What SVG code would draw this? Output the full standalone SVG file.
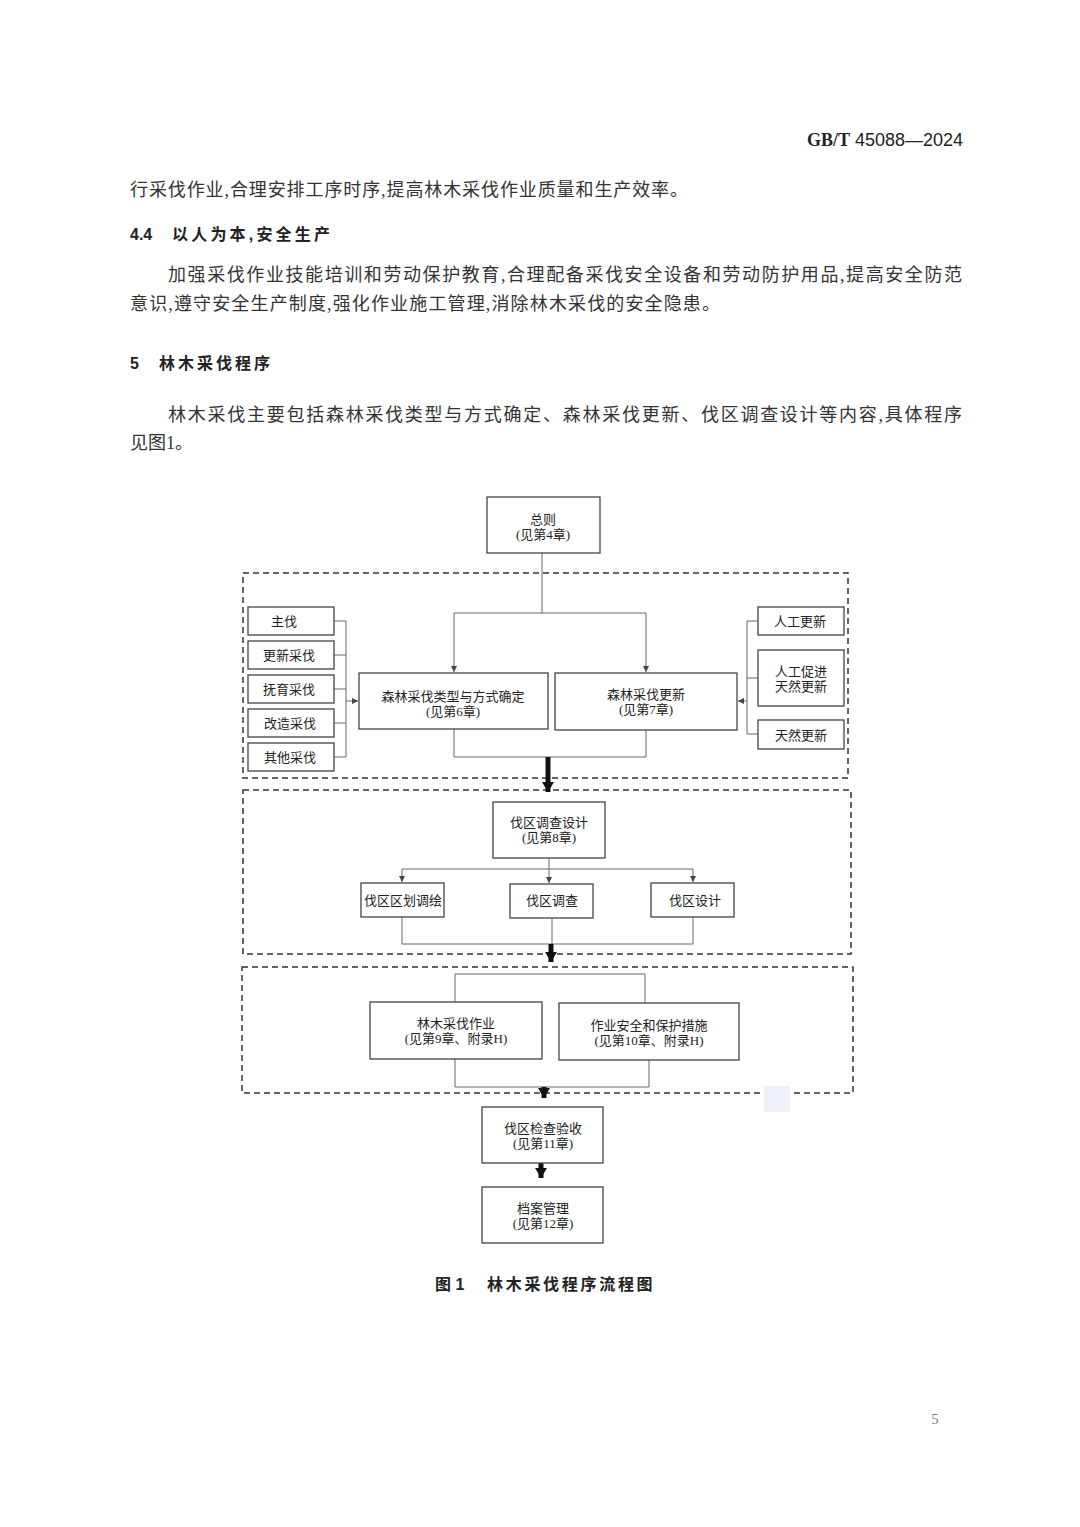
<svg xmlns="http://www.w3.org/2000/svg" width="1080" height="1527" viewBox="0 0 1080 1527">
<style>
.body{font-family:"Liberation Serif","Noto Sans CJK SC",serif;font-size:18px;fill:#333}
.head{font-family:"Liberation Sans","Noto Sans CJK SC",sans-serif;font-size:16px;font-weight:bold;fill:#222}
.box{fill:#fff;stroke:#444;stroke-width:1.3}
.t{font-family:"Liberation Serif","Noto Sans CJK SC",serif;font-size:13px;fill:#222;text-anchor:middle}
.ln{fill:none;stroke:#666;stroke-width:1}
.dash{fill:none;stroke:#333;stroke-width:1.5;stroke-dasharray:6,4}
.thick{fill:none;stroke:#111;stroke-width:5}
</style>
<defs>
<marker id="a" markerUnits="userSpaceOnUse" markerWidth="8" markerHeight="8" refX="6" refY="3" orient="auto"><path d="M0,0 L6,3 L0,6 Z" fill="#444"/></marker>
<marker id="ta" markerUnits="userSpaceOnUse" markerWidth="14" markerHeight="12" refX="10" refY="6" orient="auto"><path d="M0,0 L10,6 L0,12 Z" fill="#111"/></marker>
</defs>
<rect width="1080" height="1527" fill="#fff"/>
<text x="963" y="146" text-anchor="end" font-family="Liberation Sans Narrow,Liberation Sans,sans-serif" font-size="18" fill="#222"><tspan font-family="Liberation Serif,serif" font-weight="bold">GB/T</tspan> 45088—2024</text>
<text class="body" x="130" y="196" textLength="558" lengthAdjust="spacing">行采伐作业,合理安排工序时序,提高林木采伐作业质量和生产效率。</text>
<text class="head" x="130" y="240" font-size="17">4.4</text>
<text class="head" x="172" y="240" font-size="17" textLength="158" lengthAdjust="spacing">以人为本,安全生产</text>
<text class="body" x="168" y="281" textLength="794" lengthAdjust="spacing">加强采伐作业技能培训和劳动保护教育,合理配备采伐安全设备和劳动防护用品,提高安全防范</text>
<text class="body" x="130" y="310" textLength="590" lengthAdjust="spacing">意识,遵守安全生产制度,强化作业施工管理,消除林木采伐的安全隐患。</text>
<text class="head" x="130" y="369" font-size="17">5</text>
<text class="head" x="159" y="369" font-size="17" textLength="111" lengthAdjust="spacing">林木采伐程序</text>
<text class="body" x="168" y="421" textLength="794" lengthAdjust="spacing">林木采伐主要包括森林采伐类型与方式确定、森林采伐更新、伐区调查设计等内容,具体程序</text>
<text class="body" x="130" y="449">见图1。</text>

<g id="frames">
<rect class="dash" x="243" y="573" width="605" height="205"/>
<rect class="dash" x="243" y="790" width="608" height="164"/>
<rect class="dash" x="242" y="967" width="611" height="126"/>
</g>
<rect x="764" y="1086" width="26" height="26" fill="#eef2f8"/>

<g id="connectors">
<line class="ln" x1="542" y1="553" x2="542" y2="613" stroke="#222" stroke-width="1.6"/>
<line class="ln" x1="454" y1="613" x2="646" y2="613"/>
<line class="ln" x1="454" y1="613" x2="454" y2="672" marker-end="url(#a)"/>
<line class="ln" x1="646" y1="613" x2="646" y2="672" marker-end="url(#a)"/>
<polyline class="ln" points="334,621 346,621 346,757 334,757"/>
<line class="ln" x1="334" y1="655" x2="346" y2="655"/>
<line class="ln" x1="334" y1="689" x2="346" y2="689"/>
<line class="ln" x1="334" y1="723" x2="346" y2="723"/>
<line class="ln" x1="346" y1="701" x2="358" y2="701" marker-end="url(#a)"/>
<polyline class="ln" points="758,621 747,621 747,734 758,734"/>
<line class="ln" x1="747" y1="678" x2="758" y2="678"/>
<line class="ln" x1="747" y1="701" x2="738" y2="701" marker-end="url(#a)"/>
<polyline class="ln" points="454,729 454,757 646,757 646,730"/>
<line class="thick" x1="548" y1="757" x2="548" y2="792" marker-end="url(#ta)"/>
<line class="ln" x1="549" y1="858" x2="549" y2="869"/>
<line class="ln" x1="402" y1="869" x2="693" y2="869"/>
<line class="ln" x1="402" y1="869" x2="402" y2="882" marker-end="url(#a)"/>
<line class="ln" x1="549" y1="869" x2="549" y2="883" marker-end="url(#a)"/>
<line class="ln" x1="693" y1="869" x2="693" y2="882" marker-end="url(#a)"/>
<polyline class="ln" points="402,917 402,944 693,944 693,917"/>
<line class="ln" x1="552" y1="918" x2="552" y2="944"/>
<line class="thick" x1="551" y1="944" x2="551" y2="962" marker-end="url(#ta)"/>
<polyline class="ln" points="455,1002 455,974 645,974 645,1003"/>
<polyline class="ln" points="455,1059 455,1087 649,1087 649,1060"/>
<line class="thick" x1="544" y1="1087" x2="544" y2="1098" marker-end="url(#ta)"/>
<line class="thick" x1="541" y1="1163" x2="541" y2="1178" marker-end="url(#ta)"/>
</g>

<g id="n-general"><rect class="box" x="487" y="497" width="113" height="56"/><text class="t" x="543" y="524">总则</text><text class="t" x="543" y="539">(见第4章)</text></g>
<g id="n-type"><rect class="box" x="359" y="673" width="189" height="56"/><text class="t" x="453" y="701">森林采伐类型与方式确定</text><text class="t" x="453" y="716">(见第6章)</text></g>
<g id="n-regen"><rect class="box" x="555" y="673" width="182" height="57"/><text class="t" x="646" y="699">森林采伐更新</text><text class="t" x="646" y="714">(见第7章)</text></g>
<g id="n-l1"><rect class="box" x="248" y="607" width="86" height="28"/><text class="t" x="284" y="626">主伐</text></g>
<g id="n-l2"><rect class="box" x="248" y="641" width="86" height="28"/><text class="t" x="289" y="660">更新采伐</text></g>
<g id="n-l3"><rect class="box" x="248" y="675" width="86" height="28"/><text class="t" x="289" y="694">抚育采伐</text></g>
<g id="n-l4"><rect class="box" x="248" y="709" width="86" height="28"/><text class="t" x="290" y="728">改造采伐</text></g>
<g id="n-l5"><rect class="box" x="248" y="743" width="86" height="28"/><text class="t" x="290" y="762">其他采伐</text></g>
<g id="n-r1"><rect class="box" x="758" y="607" width="86" height="28"/><text class="t" x="800" y="626">人工更新</text></g>
<g id="n-r2"><rect class="box" x="758" y="650" width="86" height="56"/><text class="t" x="801" y="676">人工促进</text><text class="t" x="801" y="691">天然更新</text></g>
<g id="n-r3"><rect class="box" x="758" y="720" width="86" height="29"/><text class="t" x="801" y="740">天然更新</text></g>
<g id="n-survey"><rect class="box" x="493" y="802" width="112" height="56"/><text class="t" x="549" y="827">伐区调查设计</text><text class="t" x="549" y="842">(见第8章)</text></g>
<g id="n-s1"><rect class="box" x="361" y="883" width="83" height="34"/><text class="t" x="403" y="905">伐区区划调绘</text></g>
<g id="n-s2"><rect class="box" x="510" y="884" width="83" height="34"/><text class="t" x="552" y="905">伐区调查</text></g>
<g id="n-s3"><rect class="box" x="651" y="883" width="83" height="34"/><text class="t" x="695" y="905">伐区设计</text></g>
<g id="n-op"><rect class="box" x="370" y="1002" width="172" height="57"/><text class="t" x="456" y="1028">林木采伐作业</text><text class="t" x="456" y="1043">(见第9章、附录H)</text></g>
<g id="n-safe"><rect class="box" x="559" y="1003" width="180" height="57"/><text class="t" x="649" y="1030">作业安全和保护措施</text><text class="t" x="649" y="1045">(见第10章、附录H)</text></g>
<g id="n-check"><rect class="box" x="482" y="1107" width="121" height="56"/><text class="t" x="543" y="1133">伐区检查验收</text><text class="t" x="543" y="1148">(见第11章)</text></g>
<g id="n-archive"><rect class="box" x="482" y="1187" width="121" height="56"/><text class="t" x="543" y="1213">档案管理</text><text class="t" x="543" y="1228">(见第12章)</text></g>

<text class="head" x="435" y="1290">图 1</text>
<text class="head" x="487" y="1290" letter-spacing="2.7">林木采伐程序流程图</text>
<text x="935" y="1424" text-anchor="middle" font-family="Liberation Serif,serif" font-size="14" fill="#777">5</text>
</svg>
